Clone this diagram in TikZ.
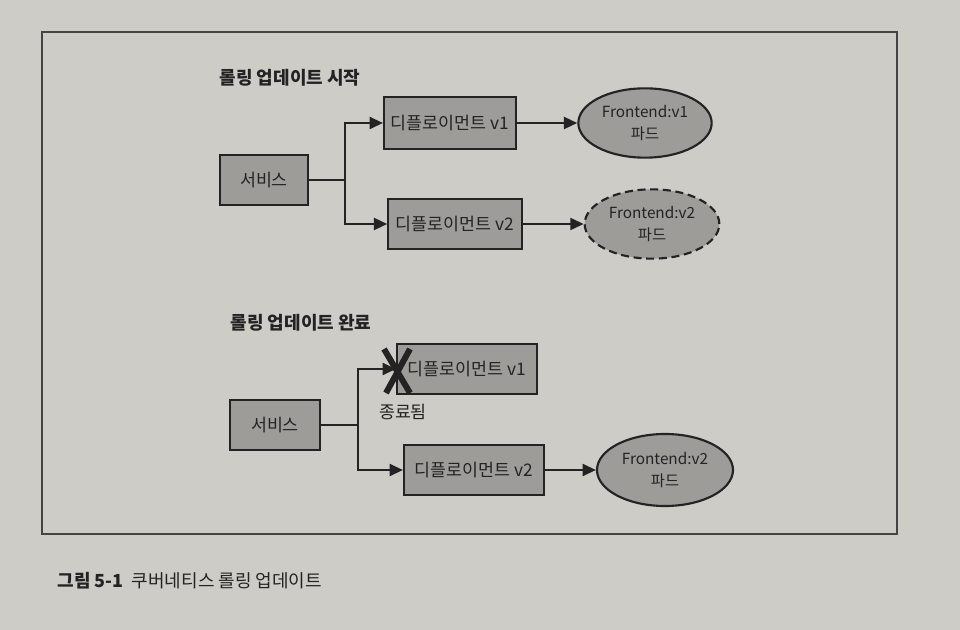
\documentclass[tikz,border=0pt]{standalone}
\usepackage{fontspec}
\setmainfont{Noto Sans CJK KR}
\usetikzlibrary{shapes.geometric,arrows.meta}
\definecolor{pagebg}{RGB}{206,204,198}
\definecolor{boxfill}{RGB}{158,156,153}
\definecolor{ink}{RGB}{35,35,35}
\tikzset{
  px/.style={x=0.75pt,y=-0.75pt},
  box/.style={draw=ink,fill=boxfill,line width=1.6pt,inner sep=0pt,font=\fontsize{13}{15}\selectfont,text=ink},
  pod/.style={ellipse,draw=ink,fill=boxfill,line width=1.6pt,inner sep=0pt,align=center,font=\fontsize{11.5}{17}\selectfont,text=ink},
  conn/.style={draw=ink,line width=1.6pt},
  arr/.style={conn,-{Triangle[length=10pt,width=9pt]}},
  title/.style={anchor=west,font=\bfseries\fontsize{13.5}{15}\selectfont,text=ink},
  plain/.style={font=\fontsize{13}{15}\selectfont,text=ink}
}
\begin{document}
\begin{tikzpicture}[px]
\useasboundingbox (0,0) rectangle (960,630);
\fill[pagebg] (0,0) rectangle (960,630);
\draw[ink!85,line width=0.9pt] (42,32) rectangle (897,534);

% top section
\node[title] (t1) at (215,78) {롤링 업데이트 시작};
\node[box,minimum width=66pt,minimum height=37.5pt] (s1) at (264,180) {서비스};
\node[box,minimum width=99pt,minimum height=39pt] (d1) at (450,123) {디플로이먼트 v1};
\node[box,minimum width=100pt,minimum height=37.5pt] (d2) at (455,224) {디플로이먼트 v2};
\node[pod,minimum width=100pt,minimum height=52pt] (f1) at (645,123) {Frontend:v1\\파드};
\node[pod,dashed,dash pattern=on 6pt off 3.5pt,minimum width=101pt,minimum height=52pt] (f2) at (652,224) {Frontend:v2\\파드};
\coordinate (b1) at (345,180);
\draw[conn] (s1.east) -- (b1);
\draw[arr] (b1) |- (d1.west);
\draw[arr] (b1) |- (d2.west);
\draw[arr] (d1.east) -- (f1.west);
\draw[arr] (d2.east) -- (f2.west);

% bottom section
\node[title] (t2) at (226,323) {롤링 업데이트 완료};
\node[box,minimum width=67pt,minimum height=37.5pt] (s2) at (275,425) {서비스};
\node[box,minimum width=105pt,minimum height=38pt] (d3) at (467,369) {디플로이먼트 v1};
\node[box,minimum width=105pt,minimum height=37.5pt] (d4) at (474,470) {디플로이먼트 v2};
\node[pod,minimum width=102pt,minimum height=54pt] (f3) at (665,470) {Frontend:v2\\파드};
\coordinate (b2) at (358,425);
\draw[conn] (s2.east) -- (b2);
\draw[arr] (b2) |- (d3.west);
\draw[arr] (b2) |- (d4.west);
\draw[arr] (d4.east) -- (f3.west);
\coordinate (x1) at (384,349);
\coordinate (x2) at (410,393);
\coordinate (x3) at (410,349);
\coordinate (x4) at (386,393);
\draw[ink,line width=4.5pt] (x1) -- (x2);
\draw[ink,line width=4.5pt] (x3) -- (x4);
\node[plain] (end) at (403,412) {종료됨};

% caption
\node[anchor=west,font=\fontsize{13.5}{16}\selectfont,text=ink] (cap) at (53,581) {\textbf{그림 5-1}\ \ 쿠버네티스 롤링 업데이트};
\end{tikzpicture}
\end{document}
